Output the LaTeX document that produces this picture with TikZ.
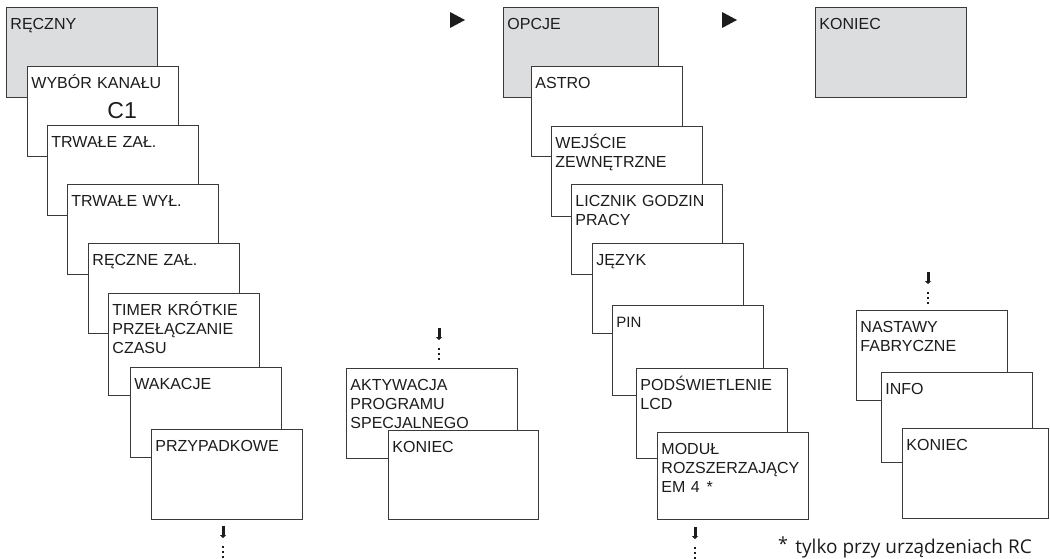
\documentclass[tikz,border=0pt]{standalone}
\usepackage{fontspec}
\setmainfont{Liberation Sans}
\newfontfamily\notefont{Open Sans}
\usetikzlibrary{positioning,arrows.meta,calc}

\definecolor{menugray}{RGB}{220,221,223}
\definecolor{framegray}{RGB}{58,58,58}
\definecolor{textgray}{RGB}{28,28,28}

\begin{document}
\begin{tikzpicture}[x=1pt, y=-1pt, line width=0.9pt,
		screen node/.style={draw=framegray, fill=white, text=textgray, anchor=north west,
			text width=143pt, align=left, inner xsep=4pt, inner ysep=4pt,
			text height=18pt, text depth=64pt, font=\fontsize{16}{19}\selectfont},
		menu node/.style={screen node, fill=menugray},
		down mark/.style={line width=3pt, draw=textgray, -{Triangle[length=3pt,width=6pt]}}]

	\useasboundingbox (0,0) rectangle (1050,558);

	% RECZNY
	\node[menu node] (r1) at (6,7) {RĘCZNY};
	\node[screen node] (r2) [below right=59pt and 21pt of r1.north west] {WYBÓR KANAŁU\\[11pt]\hspace*{76pt}{\fontsize{23}{23}\selectfont C1}};
	\node[screen node] (r3) [below right=59pt and 20pt of r2.north west] {TRWAŁE ZAŁ.};
	\node[screen node] (r4) [below right=59pt and 20pt of r3.north west] {TRWAŁE WYŁ.};
	\node[screen node] (r5) [below right=59pt and 21pt of r4.north west] {RĘCZNE ZAŁ.};
	\node[screen node, text depth=76pt] (r6) [below right=50pt and 20pt of r5.north west] {TIMER KRÓTKIE\\PRZEŁĄCZANIE\\CZASU};
	\node[screen node] (r7) [below right=74pt and 22pt of r6.north west] {WAKACJE};
	\node[screen node] (r8) [below right=62pt and 21pt of r7.north west] {PRZYPADKOWE};

	% specjalny
	\node[screen node, text width=163pt] (a1) at (346,368) {AKTYWACJA\\PROGRAMU\\SPECJALNEGO};
	\node[screen node, text width=142pt, text depth=63pt] (a2) [below right=62pt and 42pt of a1.north west] {KONIEC};

	% OPCJE
	\node[menu node, text width=147pt] (o1) at (503,7) {OPCJE};
	\node[screen node] (o2) [below right=59pt and 28pt of o1.north west] {ASTRO};
	\node[screen node] (o3) [below right=60pt and 20pt of o2.north west] {WEJŚCIE\\ZEWNĘTRZNE};
	\node[screen node] (o4) [below right=58pt and 20pt of o3.north west] {LICZNIK GODZIN\\PRACY};
	\node[screen node] (o5) [below right=59pt and 21pt of o4.north west] {JĘZYK};
	\node[screen node, font=\fontsize{15}{19}\selectfont] (o6) [below right=62pt and 20pt of o5.north west] {PIN};
	\node[screen node] (o7) [below right=63pt and 24pt of o6.north west] {PODŚWIETLENIE\\LCD};
	\node[screen node, text depth=61pt] (o8) [below right=64pt and 21pt of o7.north west] {MODUŁ\\ROZSZERZAJĄCY\\EM 4\hspace{7pt}*};

	% KONIEC
	\node[menu node] (k1) at (815,7) {KONIEC};
	\node[screen node] (n1) at (856,310) {NASTAWY\\FABRYCZNE};
	\node[screen node] (n2) [below right=62pt and 25pt of n1.north west] {INFO};
	\node[screen node, text width=138pt] (n3) [below right=56pt and 21pt of n2.north west] {KONIEC};

	% przejscia
	\fill[textgray] (450,12) -- (465,20) -- (450,28) -- cycle;
	\fill[textgray] (722,12) -- (737,20) -- (722,28) -- cycle;

	\coordinate (d1) at (223,526);
	\coordinate (d2) at (439,328);
	\coordinate (d3) at (695,527);
	\coordinate (d4) at (928,272);
	\foreach \d in {d1,d2,d3,d4}{
		\draw[down mark] (\d) -- ++(0,12);
		\foreach \k in {20,25,30}
			\fill[textgray] ($(\d)+(-1,\k)$) rectangle ++(2,2);
	}

	% przypis
	\node[font=\notefont\fontsize{18}{18}\selectfont, text=textgray, inner sep=0pt] (gw) at (783,544) {*};
	\node[font=\notefont\fontsize{19}{19}\selectfont, text=textgray, anchor=base west, inner sep=0pt] (przypis) at (795,553) {tylko przy urządzeniach RC};
\end{tikzpicture}
\end{document}
